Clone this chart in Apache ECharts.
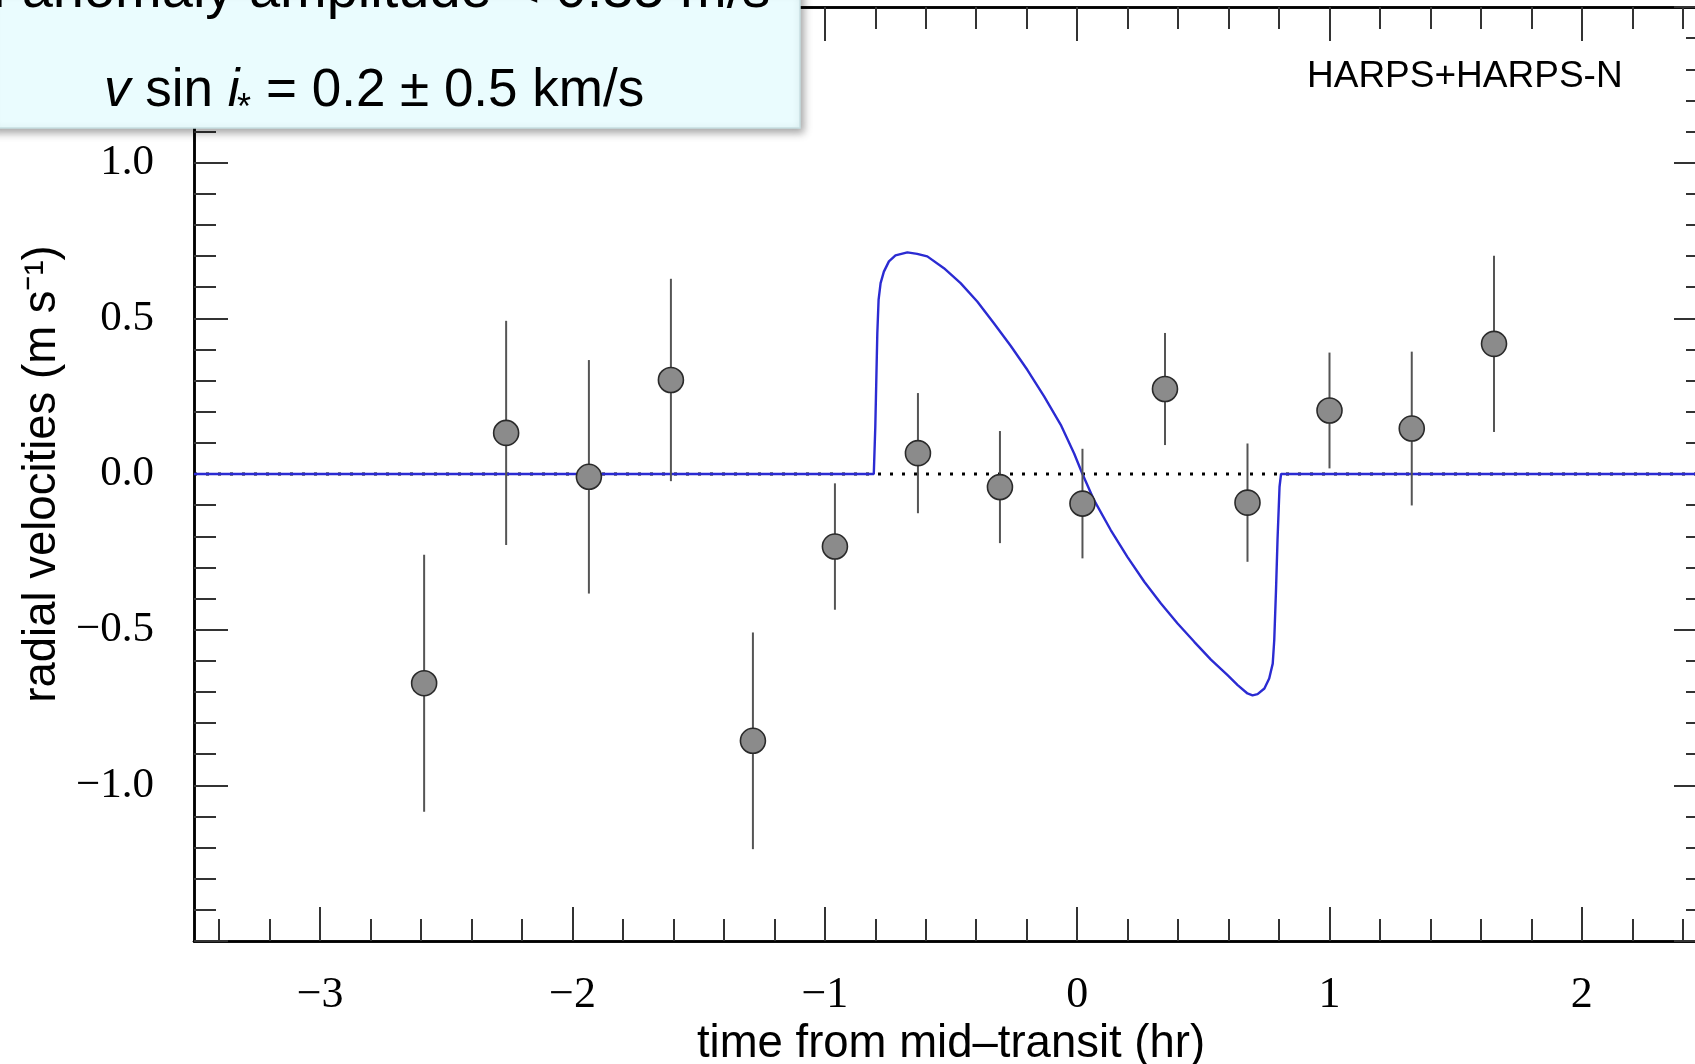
<!DOCTYPE html>
<html>
<head>
<meta charset="utf-8">
<script src="https://cdn.jsdelivr.net/npm/echarts@6/dist/echarts.min.js"></script>
<style>
  html, body { margin: 0; padding: 0; background: #fff; }
  #chart { width: 1695px; height: 1064px; }
</style>
</head>
<body>
<div id="chart"></div>
<script>
// Radial-velocity residuals across the transit, with the RM model curve.
const TIME_HR = [-2.588, -2.263, -1.935, -1.610, -1.285, -0.960, -0.631, -0.306, 0.021, 0.348, 0.675, 1.000, 1.326, 1.652];
const RV      = [-0.672, 0.132, -0.009, 0.302, -0.857, -0.233, 0.067, -0.042, -0.095, 0.273, -0.092, 0.204, 0.146, 0.418];
const RV_ERR  = [0.413, 0.360, 0.375, 0.325, 0.348, 0.203, 0.193, 0.180, 0.176, 0.180, 0.190, 0.186, 0.247, 0.283];

// Rossiter-McLaughlin model curve (hr, m/s)
const MODEL_T  = [-3.5, -0.806, -0.800, -0.796, -0.792, -0.787, -0.779, -0.766, -0.746, -0.720, -0.673, -0.634, -0.594,
                  -0.528, -0.462, -0.396, -0.330, -0.263, -0.197, -0.131, -0.065, -0.012, 0.021, 0.067, 0.133, 0.199,
                  0.266, 0.332, 0.398, 0.464, 0.530, 0.596, 0.636, 0.675, 0.695, 0.715, 0.742, 0.761, 0.775, 0.781,
                  0.788, 0.794, 0.802, 0.808, 2.5];
const MODEL_RV = [0, 0, 0.152, 0.302, 0.452, 0.559, 0.613, 0.650, 0.683, 0.702, 0.712, 0.707, 0.699,
                  0.661, 0.613, 0.554, 0.484, 0.411, 0.334, 0.249, 0.158, 0.066, 0, -0.084, -0.180, -0.266,
                  -0.346, -0.416, -0.480, -0.539, -0.596, -0.646, -0.678, -0.705, -0.711, -0.707, -0.689, -0.657, -0.609, -0.534,
                  -0.373, -0.212, -0.041, 0, 0];

const X_RANGE = [-3.5, 2.5];
const Y_RANGE = [-1.5, 1.5];
const X_TICK_LABELS = [-3, -2, -1, 0, 1, 2];
const Y_TICK_LABELS = [-1, -0.5, 0, 0.5, 1];

// tick positions: hours every 1 (major) / 0.2 (minor); velocity every 0.5 / 0.1
const xMajor = [], xMinor = [], yMajor = [], yMinor = [];
for (let i = -17; i <= 12; i++) { (i % 5 === 0 ? xMajor : xMinor).push(i / 5); }
for (let i = -15; i <= 15; i++) { (i % 5 === 0 ? yMajor : yMinor).push(i / 10); }

const MINUS = s => String(s).replace('-', '\u2212');
const TICK_COLOR = '#333';
const SERIF = "'Liberation Serif', 'Times New Roman', serif";
const SANS = "'Liberation Sans', Arial, sans-serif";

function xAxisDef(position, ticks, len, extra) {
  return Object.assign({
    type: 'value', position, min: X_RANGE[0], max: X_RANGE[1],
    axisLine: { show: true, onZero: false, lineStyle: { color: '#000', width: 2.5 } },
    axisTick: { show: true, inside: true, length: len, customValues: ticks, lineStyle: { color: TICK_COLOR, width: 2 } },
    axisLabel: { show: false },
    splitLine: { show: false }
  }, extra || {});
}
function yAxisDef(position, ticks, len, extra) {
  return Object.assign({
    type: 'value', position, min: Y_RANGE[0], max: Y_RANGE[1],
    axisLine: { show: true, onZero: false, lineStyle: { color: '#000', width: 2.5 } },
    axisTick: { show: true, inside: true, length: len, customValues: ticks, lineStyle: { color: TICK_COLOR, width: 2 } },
    axisLabel: { show: false },
    splitLine: { show: false }
  }, extra || {});
}

const chart = echarts.init(document.getElementById('chart'), null, { renderer: 'canvas' });

const option = {
  animation: false,
  backgroundColor: '#fff',
  grid: { left: 194, top: 7, right: -13, bottom: 123, containLabel: false, outerBoundsMode: 'none' },
  xAxis: [
    xAxisDef('bottom', xMajor, 34, {
      axisLabel: {
        show: true, customValues: X_TICK_LABELS, margin: 32,
        formatter: v => MINUS(v), color: '#000', fontFamily: SERIF, fontSize: 44
      },
      name: 'time from mid\u2013transit (hr)', nameLocation: 'middle', nameGap: 72,
      nameTextStyle: { fontFamily: SANS, fontSize: 45.5, color: '#000' }
    }),
    xAxisDef('bottom', xMinor, 22),
    xAxisDef('top', xMajor, 34),
    xAxisDef('top', xMinor, 22)
  ],
  yAxis: [
    yAxisDef('left', yMajor, 34, {
      axisLabel: {
        show: true, customValues: Y_TICK_LABELS, margin: 40,
        formatter: v => MINUS(v.toFixed(1)), color: '#000', fontFamily: SERIF, fontSize: 43
      },
      name: 'radial velocities (m s\u207B\u00B9)', nameLocation: 'middle', nameGap: 114, nameRotate: 90,
      nameTextStyle: { fontFamily: SANS, fontSize: 45.5, color: '#000' }
    }),
    yAxisDef('left', yMinor, 22),
    yAxisDef('right', yMajor, 34),
    yAxisDef('right', yMinor, 22)
  ],
  series: [
    {
      name: 'zero', type: 'line', z: 1, silent: true, symbol: 'none',
      data: X_RANGE.map(t => [t, 0]),
      lineStyle: { color: '#000', width: 3, type: [3, 9] }
    },
    {
      name: 'model', type: 'line', z: 3, silent: true, symbol: 'none', clip: true,
      data: MODEL_T.map((t, i) => [t, MODEL_RV[i]]),
      lineStyle: { color: '#2b2bd2', width: 2.4 }
    },
    {
      name: 'errors', type: 'custom', z: 4, silent: true,
      data: TIME_HR.map((t, i) => [t, RV[i] - RV_ERR[i], RV[i] + RV_ERR[i]]),
      encode: { x: 0, y: [1, 2] },
      renderItem: (params, api) => {
        const a = api.coord([api.value(0), api.value(1)]);
        const b = api.coord([api.value(0), api.value(2)]);
        return { type: 'line', shape: { x1: a[0], y1: a[1], x2: b[0], y2: b[1] },
                 style: { stroke: '#555', lineWidth: 2 } };
      }
    },
    {
      name: 'HARPS+HARPS-N', type: 'scatter', z: 5, silent: true,
      data: TIME_HR.map((t, i) => [t, RV[i]]),
      symbol: 'circle', symbolSize: 25,
      itemStyle: { color: '#8b8b8b', borderColor: '#2a2a2a', borderWidth: 1.6, opacity: 1 }
    }
  ],
  graphic: [
    {
      type: 'text', z: 50,
      style: { text: 'HARPS+HARPS-N', x: 1307, y: 77, verticalAlign: 'middle', align: 'left',
               fontFamily: SANS, fontSize: 37, fill: '#000' }
    },
    {
      type: 'group', z: 100,
      children: [
        {
          type: 'rect', z: 100,
          shape: { x: -12, y: -12, width: 812, height: 140 },
          style: { fill: '#eafcfe', stroke: '#c8dfe2', lineWidth: 1.5,
                   shadowBlur: 8, shadowOffsetX: 3, shadowOffsetY: 4, shadowColor: 'rgba(0,0,0,0.35)' }
        },
        {
          type: 'text', z: 101,
          style: { text: 'RM anomaly amplitude < 0.35 m/s', x: -81, y: -8, verticalAlign: 'middle', align: 'left',
                   fontFamily: SANS, fontSize: 56, fill: '#000' }
        },
        {
          type: 'text', z: 101,
          style: { text: '{it|v} sin {it|i}', x: 104, y: 91, verticalAlign: 'middle', align: 'left',
                   fontFamily: SANS, fontSize: 53, fill: '#000',
                   rich: { it: { fontStyle: 'italic', fontFamily: SANS, fontSize: 53 } } }
        },
        {
          type: 'text', z: 101,
          style: { text: '*', x: 237, y: 109, verticalAlign: 'middle', align: 'left',
                   fontFamily: SANS, fontSize: 36, fill: '#000' }
        },
        {
          type: 'text', z: 101,
          style: { text: '= 0.2 \u00B1 0.5 km/s', x: 266, y: 91, verticalAlign: 'middle', align: 'left',
                   fontFamily: SANS, fontSize: 53, fill: '#000' }
        }
      ]
    }
  ]
};

chart.setOption(option);
</script>
</body>
</html>
